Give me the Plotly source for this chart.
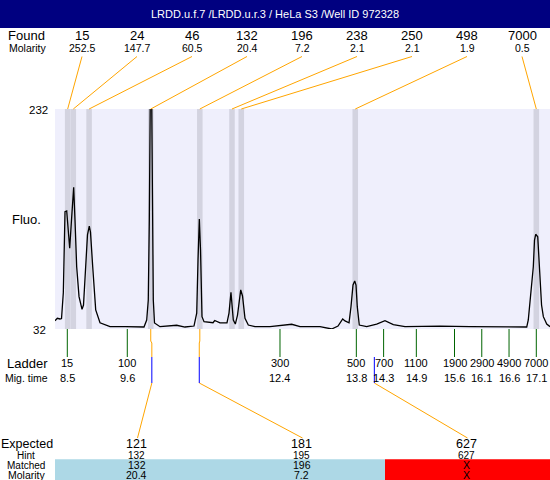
import plotly.graph_objects as go

# ---------------- data ----------------
title_text = "LRDD.u.f.7 /LRDD.u.r.3 / HeLa S3 /Well ID 972328"

found_sizes = ["15", "24", "46", "132", "196", "238", "250", "498", "7000"]
found_molarity = ["252.5", "147.7", "60.5", "20.4", "7.2", "2.1", "2.1", "1.9", "0.5"]
found_times = [8.507, 8.61, 8.90, 10.03, 10.93, 11.52, 11.69, 13.78, 17.10]

ladder_sizes = ["15", "100", "300", "500", "700", "1100", "1900", "2900", "4900", "7000"]
ladder_times = [8.5, 9.6, 12.4, 13.8, 14.3, 14.9, 15.6, 16.1, 16.6, 17.1]

expected_sizes = ["121", "181", "627"]
expected_times = [10.05, 10.92, 14.13]
hint_sizes = ["132", "195", "627"]
matched_sizes = ["132", "196", "X"]
matched_molarity = ["20.4", "7.2", "X"]
matched_times = [10.03, 10.93, None]
matched_ok = [True, True, False]

trace_time = [8.274, 8.317, 8.366, 8.394, 8.427, 8.458, 8.489, 8.513, 8.544, 8.577,
              8.617, 8.641, 8.672, 8.715, 8.770, 8.797, 8.830, 8.870, 8.903, 8.925,
              8.966, 9.021, 9.100, 9.283, 9.558, 9.833, 9.906, 9.956, 9.985, 10.004,
              10.022, 10.047, 10.062, 10.077, 10.099, 10.200, 10.506, 10.658, 10.823, 10.873,
              10.897, 10.921, 10.943, 10.970, 11.007, 11.172, 11.203, 11.300, 11.428, 11.465,
              11.501, 11.544, 11.581, 11.621, 11.680, 11.713, 11.758, 11.819, 11.942, 12.217,
              12.615, 12.767, 13.134, 13.348, 13.464, 13.550, 13.592, 13.666, 13.702, 13.739,
              13.770, 13.794, 13.817, 13.854, 13.990, 14.173, 14.325, 14.478, 14.692, 15.334,
              15.884, 16.434, 16.709, 16.924, 16.953, 16.984, 17.016, 17.045, 17.067, 17.089,
              17.126, 17.146, 17.168, 17.196, 17.229, 17.291, 17.352]
trace_fluo = [39.5, 41.7, 41.1, 41.5, 65.0, 138.6, 139.3, 126.5, 105.4, 131.1,
              160.8, 131.1, 88.6, 61.4, 49.9, 53.8, 82.9, 117.5, 125.6, 120.2,
              88.6, 49.3, 37.7, 34.1, 34.1, 33.5, 33.8, 40.2, 58.4, 131.1,
              245.0, 245.0, 140.0, 58.4, 37.5, 34.1, 35.4, 33.8, 34.7, 46.5,
              94.7, 132.0, 103.8, 43.2, 38.6, 37.7, 39.7, 37.5, 37.5, 46.5,
              65.4, 40.2, 36.5, 44.7, 67.5, 62.0, 41.7, 35.6, 34.1, 34.1,
              36.3, 34.1, 34.1, 32.0, 34.7, 41.1, 39.3, 37.7, 52.3, 72.0,
              75.6, 72.0, 52.3, 35.6, 34.1, 36.5, 39.5, 35.9, 34.1, 34.7,
              34.1, 34.3, 33.8, 33.8, 40.2, 58.4, 70.5, 88.6, 112.9, 118.1,
              115.9, 95.0, 70.5, 53.8, 43.2, 36.5, 34.1]

y_min, y_max = 32, 232

# ---------------- layout geometry ----------------
W, H = 550, 480
PLOT_L, PLOT_R, PLOT_T, PLOT_B = 55, 550, 109, 329
X_RANGE = [8.2745, 17.351]

FONT = "Arial, Liberation Sans, sans-serif"
ORANGE = "#FFA500"
BLUE = "#0000FF"
GREEN = "#006400"


def px(x):
    return x / W


def py(y):
    return 1 - y / H


def t2px(t):
    return PLOT_L + (t - X_RANGE[0]) / (X_RANGE[1] - X_RANGE[0]) * (PLOT_R - PLOT_L)


fig = go.Figure()
fig.add_trace(go.Scatter(x=trace_time, y=trace_fluo, mode="lines",
                         line=dict(color="black", width=1.3), hoverinfo="skip"))

shapes = []
annots = []


def text(x, y, s, size, color="black", anchor="center"):
    annots.append(dict(x=px(x), y=py(y), xref="paper", yref="paper", text=s,
                       showarrow=False, xanchor=anchor, yanchor="middle",
                       borderpad=0,
                       font=dict(family=FONT, size=size, color=color)))


def pline(x0, y0, x1, y1, color, width=1):
    shapes.append(dict(type="line", xref="paper", yref="paper",
                       x0=px(x0), y0=py(y0), x1=px(x1), y1=py(y1),
                       line=dict(color=color, width=width)))


# title bar
shapes.append(dict(type="rect", xref="paper", yref="paper", x0=0, x1=1, y0=py(28), y1=1,
                   fillcolor="#000080", line=dict(width=0), layer="below"))
text(275, 14.5, title_text, 11, color="white")

# found rows
text(26.5, 35.5, "Found", 13)
text(27.5, 48, "Molarity", 10.5)
for i, (s, m, t) in enumerate(zip(found_sizes, found_molarity, found_times)):
    lx = 82 + 55 * i
    text(lx, 35.5, s, 13)
    text(lx, 48, m, 10.5)
    pline(lx, 56.5, t2px(t), PLOT_T, ORANGE)
    # highlight bands
    shapes.append(dict(type="rect", xref="x", yref="y", x0=t - 0.051, x1=t + 0.051,
                       y0=y_min, y1=y_max, fillcolor="#D3D3E0", line=dict(width=0),
                       layer="below"))

# y labels
text(48.5, 110, str(y_max), 11.5, anchor="right")
text(46.5, 330, str(y_min), 11.5, anchor="right")
text(26.5, 220, "Fluo.", 13)

# ladder
text(27, 363, "Ladder", 13)
text(26.5, 377.5, "Mig. time", 10.5)
for s, t in zip(ladder_sizes, ladder_times):
    shapes.append(dict(type="line", xref="x", yref="paper", x0=t, x1=t,
                       y0=py(PLOT_B), y1=py(357), line=dict(color=GREEN, width=1)))
    text(t2px(t), 363, s, 11)
    text(t2px(t), 377.5, f"{t:.1f}", 11)

# expected table
ROW_EXP, ROW_HINT, ROW_MATCH, ROW_MOL = 443.5, 455, 465.3, 474.5
text(27, ROW_EXP, "Expected", 12.5)
text(25.5, ROW_HINT, "Hint", 10)
text(26.2, ROW_MATCH, "Matched", 10)
text(26.5, ROW_MOL, "Molarity", 10.5)
for j in range(len(expected_sizes)):
    x0c = PLOT_L + 165 * j
    cx = x0c + 81.5
    shapes.append(dict(type="rect", xref="paper", yref="paper", x0=px(x0c), x1=px(x0c + 165),
                       y0=0, y1=py(459.3),
                       fillcolor="#ADD8E6" if matched_ok[j] else "#FF0000",
                       line=dict(width=0), layer="below"))
    text(cx, ROW_EXP, expected_sizes[j], 12.5)
    text(cx, ROW_HINT, hint_sizes[j], 10)
    text(cx, ROW_MATCH, matched_sizes[j], 10.5)
    text(cx, ROW_MOL, matched_molarity[j], 10.5)
    ex = t2px(expected_times[j])
    pline(ex, 383, cx + 1, 438, ORANGE)
    pline(ex, 357, ex, 383, BLUE)
    if matched_times[j] is not None:
        mx = t2px(matched_times[j])
        pline(mx, PLOT_B, mx, 341, ORANGE)
        pline(mx, 341, ex, 343, ORANGE)
        pline(ex, 343, ex, 357, ORANGE)

fig.update_layout(
    width=W, height=H, margin=dict(l=0, r=0, t=0, b=0),
    paper_bgcolor="white", plot_bgcolor="#EFEFFC", showlegend=False,
    xaxis=dict(domain=[px(PLOT_L), px(PLOT_R)], range=X_RANGE, showgrid=False,
               zeroline=False, showticklabels=False, ticks="", showline=False, fixedrange=True),
    yaxis=dict(domain=[py(PLOT_B), py(PLOT_T)], range=[y_min, y_max], showgrid=False,
               zeroline=False, showticklabels=False, ticks="", showline=False, fixedrange=True),
    shapes=shapes, annotations=annots,
)

fig.write_html(
    "out.html",
    config={"displayModeBar": False, "staticPlot": True},
    post_script="document.body.style.margin='0';document.body.style.padding='0';"
                "document.body.style.overflow='hidden';",
)
